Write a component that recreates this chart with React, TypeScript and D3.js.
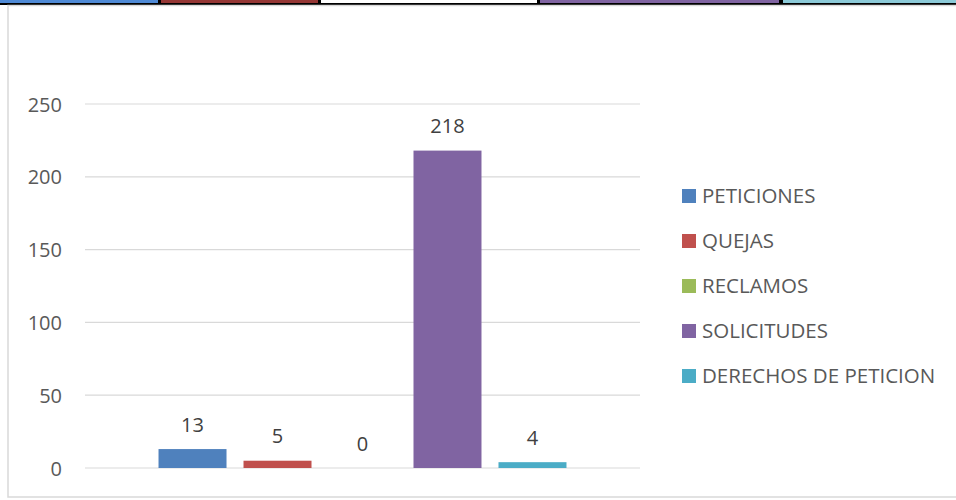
import React from "react";
import * as d3 from "d3";

const categories = ["PETICIONES", "QUEJAS", "RECLAMOS", "SOLICITUDES", "DERECHOS DE PETICION"];
const values = [13, 5, 0, 218, 4];
const colors = ["#4f81bd", "#c0504d", "#9bbb59", "#8064a2", "#4bacc6"];
const yTicks = [0, 50, 100, 150, 200, 250];
const stripColors = ["#4f8ad6", "#953735", "#ffffff", "#8064a2", "#8ccad8"];
const stripEdges = [0, 158, 161, 318, 321, 537, 540, 779, 783, 956];

const W = 956;
const H = 500;
const FONT = "'Open Sans', 'DejaVu Sans', sans-serif";

export default function App() {
  const x = d3
    .scaleBand<string>()
    .domain(categories)
    .range([85, 640])
    .paddingInner(0.2)
    .paddingOuter(0.865);
  const y = d3.scaleLinear().domain([0, 250]).range([468, 104]);

  const legendY = d3
    .scalePoint<string>()
    .domain(categories)
    .range([203, 383]);

  return (
    <svg
      width={W}
      height={H}
      style={{ position: "absolute", left: 0, top: 0, background: "#fff" }}
      fontFamily={FONT}
    >
      {/* top strip */}
      <rect x={0} y={0} width={W} height={5} fill="#000" />
      {stripColors.map((c, i) => (
        <rect
          key={i}
          x={stripEdges[i * 2]}
          y={0}
          width={stripEdges[i * 2 + 1] - stripEdges[i * 2]}
          height={3}
          fill={c}
        />
      ))}
      {/* chart border */}
      <rect
        x={8}
        y={5.5}
        width={960}
        height={491.5}
        fill="#fff"
        stroke="#d9d9d9"
        strokeWidth={1.5}
      />
      {/* gridlines */}
      {yTicks.map((t) => (
        <g key={t}>
          <line x1={85} x2={640} y1={y(t)} y2={y(t)} stroke="#d9d9d9" strokeWidth={1.2} />
          <text
            x={62}
            y={y(t) + 7.5}
            textAnchor="end"
            fontSize={20}
            fill="#595959"
          >
            {t}
          </text>
        </g>
      ))}
      {/* bars */}
      {categories.map((c, i) => (
        <g key={c}>
          <rect
            x={x(c)}
            y={y(values[i])}
            width={x.bandwidth()}
            height={y(0) - y(values[i])}
            fill={colors[i]}
          />
          <text
            x={(x(c) as number) + x.bandwidth() / 2}
            y={y(values[i]) - 17.5}
            textAnchor="middle"
            fontSize={20}
            fill="#404040"
          >
            {values[i]}
          </text>
        </g>
      ))}
      {/* legend */}
      {categories.map((c, i) => (
        <g key={c}>
          <rect x={682} y={(legendY(c) as number) - 14} width={14} height={14} fill={colors[i]} />
          <text x={702} y={legendY(c)} fontSize={20.5} fill="#595959">
            {c}
          </text>
        </g>
      ))}
    </svg>
  );
}
